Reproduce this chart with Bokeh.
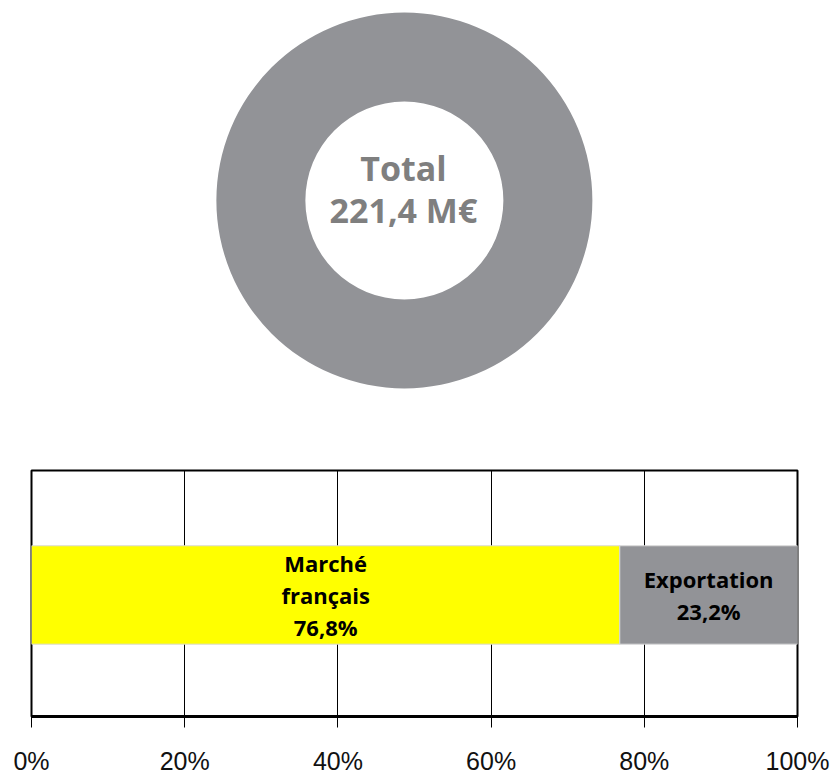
from bokeh.plotting import figure
from bokeh.layouts import column
from bokeh.models import ColumnDataSource, FixedTicker, Range1d
from bokeh.core.properties import value
from bokeh.embed import file_html
from bokeh.resources import INLINE

# Data
total_label = ["Total", "221,4 M€"]
total_value = [221.4]
segments = ["Marché\nfrançais", "Exportation"]
shares = [76.8, 23.2]
share_labels = ["76,8%", "23,2%"]
tick_values = [0, 20, 40, 60, 80, 100]
tick_labels = ["0%", "20%", "40%", "60%", "80%", "100%"]
colors = ["#FFFF00", "#929397"]

# ---- Donut ----
W, H1 = 832, 430
p1 = figure(width=W, height=H1, output_backend="svg", toolbar_location=None,
            x_range=Range1d(0, W), y_range=Range1d(0, H1),
            min_border=0, outline_line_color=None)
p1.axis.visible = False
p1.grid.visible = False
cx, cy = 405, H1 - 200
src1 = ColumnDataSource(dict(x=[cx], y=[cy], v=total_value))
p1.annulus(x="x", y="y", inner_radius=99, outer_radius=188,
           inner_radius_units="screen", outer_radius_units="screen",
           fill_color="#929397", line_color=None, source=src1)
p1.text(x=[cx - 1, cx - 1], y=[H1 - 167, H1 - 209], text=total_label,
        text_font=value("Open Sans"), text_font_style="bold", text_font_size="34px",
        text_color="#7f7f7f", text_align="center", text_baseline="middle")

# ---- Bar ----
H2 = 777 - H1
FRAME_H = 248
p2 = figure(width=W, height=H2, output_backend="svg", toolbar_location=None,
            x_range=Range1d(0, 100), y_range=Range1d(0, 1),
            min_border_left=31, min_border_right=35, min_border_top=40,
            min_border_bottom=H2 - 40 - FRAME_H,
            outline_line_color="black", outline_line_width=2)
lefts = [sum(shares[:i]) for i in range(len(shares))]
rights = [lefts[i] + shares[i] for i in range(len(shares))]
centers = [(l + r) / 2 for l, r in zip(lefts, rights)]
src2 = ColumnDataSource(dict(left=lefts, right=rights, y=[0.494] * 2,
                             color=colors, center=centers,
                             label=[s + "\n" + l for s, l in zip(segments, share_labels)]))
p2.hbar(y="y", left="left", right="right", height=0.4, fill_color="color",
        line_color="#d9d9d9", line_width=1, source=src2)
p2.text(x="center", y="y", text="label", source=src2,
        text_font=value("Open Sans"), text_font_style="bold", text_font_size="22px",
        text_color="black", text_align="center", text_baseline="middle",
        text_line_height=1.07)

p2.yaxis.visible = False
p2.ygrid.visible = False
p2.xgrid.ticker = FixedTicker(ticks=tick_values)
p2.xgrid.grid_line_color = "black"
p2.xgrid.grid_line_alpha = 1
p2.xgrid.grid_line_width = 1
p2.xgrid.level = "image"
p2.xaxis.ticker = FixedTicker(ticks=tick_values)
p2.xaxis.major_label_overrides = {v: l for v, l in zip(tick_values, tick_labels)}
p2.xaxis.axis_line_color = "black"
p2.xaxis.axis_line_width = 3
p2.xaxis.major_tick_line_color = "black"
p2.xaxis.major_tick_in = 0
p2.xaxis.major_tick_out = 11
p2.xaxis.minor_tick_line_color = None
p2.xaxis.major_label_standoff = 19
p2.xaxis.major_label_text_font = "Liberation Sans"
p2.xaxis.major_label_text_font_size = "25px"
p2.xaxis.major_label_text_color = "#111111"

layout = column(p1, p2, spacing=0)
open("out.html", "w").write(file_html(layout, INLINE))
